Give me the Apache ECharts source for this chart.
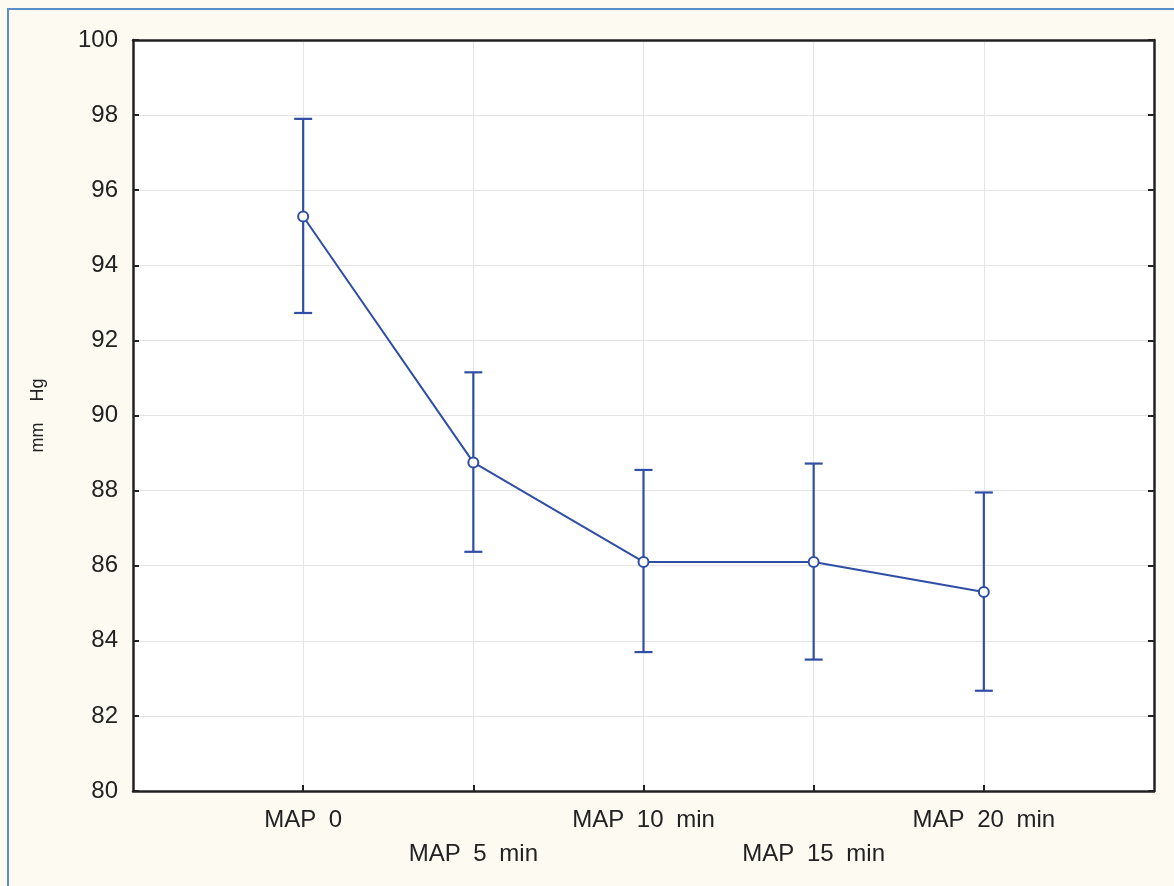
<!DOCTYPE html>
<html>
<head>
<meta charset="utf-8">
<script src="https://cdn.jsdelivr.net/npm/echarts@6/dist/echarts.min.js"></script>
<style>
html, body { margin:0; padding:0; background:#fdfaf2; }
#frame { position:absolute; left:7px; top:8px; right:0; bottom:0; border-left:2px solid #5b8ccc; border-top:2px solid #5b8ccc; }
#chart { position:absolute; left:0; top:0; width:1174px; height:886px; }
</style>
</head>
<body>
<div id="frame"></div>
<div id="chart"></div>
<script>
// data
var categories = ['MAP 0', 'MAP 5 min', 'MAP 10 min', 'MAP 15 min', 'MAP 20 min'];
var means = [95.3, 88.75, 86.1, 86.1, 85.3];
var upper = [97.9, 91.15, 88.55, 88.72, 87.95];
var lower = [92.73, 86.37, 83.7, 83.5, 82.67];

var LINE = '#2f4ea5';
var FONT = 'Liberation Sans, Arial, sans-serif';
var myChart = echarts.init(document.getElementById('chart'));

var points = [];
var bars = [];
for (var i = 0; i < categories.length; i++) {
    points.push([i + 1, means[i]]);
    bars.push([i + 1, lower[i], upper[i]]);
}

// statistica spaces words out wider than arial does
function spaced(txt) {
    return txt.split(' ').map(function (w) { return '{w|' + w + '}'; }).join(' ');
}

function renderBar(params, api) {
    var x = api.value(0);
    var lo = api.coord([x, api.value(1)]);
    var hi = api.coord([x, api.value(2)]);
    var half = 9;
    var st = { stroke: LINE, lineWidth: 2.2, fill: null };
    return {
        type: 'group',
        children: [
            { type: 'line', shape: { x1: lo[0], y1: lo[1], x2: hi[0], y2: hi[1] }, style: st },
            { type: 'line', shape: { x1: lo[0] - half, y1: lo[1], x2: lo[0] + half, y2: lo[1] }, style: st },
            { type: 'line', shape: { x1: hi[0] - half, y1: hi[1], x2: hi[0] + half, y2: hi[1] }, style: st }
        ]
    };
}

var axisDark = { color: '#222', width: 2.5 };
var tickDark = { inside: true, length: 6, lineStyle: { color: '#222', width: 2 } };

var option = {
    animation: false,
    grid: { left: 133, right: 20, top: 40, bottom: 95, backgroundColor: '#fff', show: true, borderWidth: 0 },
    xAxis: [{
        type: 'value', min: 0, max: 6, interval: 1,
        axisLine: { onZero: false, lineStyle: axisDark },
        axisTick: tickDark,
        splitLine: { lineStyle: { color: '#e4e4e4', width: 1 } },
        axisLabel: {
            margin: 12, lineHeight: 34,
            fontFamily: FONT, fontSize: 24, color: '#222',
            rich: { w: { fontFamily: FONT, fontSize: 24, color: '#222', lineHeight: 34, padding: [0, 3, 0, 3] } },
            formatter: function (v) {
                var k = Math.round(v) - 1;
                if (v !== Math.round(v) || k < 0 || k >= categories.length) return '';
                return k % 2 === 1 ? '\n' + spaced(categories[k]) : spaced(categories[k]);
            },
            showMinLabel: false, showMaxLabel: false
        }
    }, {
        type: 'value', min: 0, max: 6, position: 'top',
        axisLine: { show: true, onZero: false, lineStyle: axisDark },
        axisTick: { show: false }, axisLabel: { show: false }, splitLine: { show: false }
    }],
    yAxis: [{
        type: 'value', min: 80, max: 100, interval: 2,
        name: '{w|mm} {w|Hg}', nameLocation: 'middle', nameGap: 86, nameRotate: 90,
        nameTextStyle: {
            fontFamily: FONT, fontSize: 18, color: '#222',
            rich: { w: { fontFamily: FONT, fontSize: 18, color: '#222', padding: [0, 8, 0, 8] } }
        },
        axisLine: { show: true, onZero: false, lineStyle: axisDark },
        axisTick: tickDark,
        splitLine: { lineStyle: { color: '#e4e4e4', width: 1 } },
        axisLabel: { margin: 15, fontFamily: FONT, fontSize: 24, color: '#222' }
    }, {
        type: 'value', min: 80, max: 100, interval: 2, position: 'right',
        axisLine: { show: true, onZero: false, lineStyle: axisDark },
        axisTick: tickDark,
        axisLabel: { show: false }, splitLine: { show: false }
    }],
    series: [{
        type: 'custom',
        renderItem: renderBar,
        encode: { x: 0, y: [1, 2] },
        data: bars,
        z: 2
    }, {
        type: 'line',
        data: points,
        symbol: 'circle',
        symbolSize: 10,
        lineStyle: { color: LINE, width: 2 },
        itemStyle: { color: '#fff', borderColor: LINE, borderWidth: 2 },
        z: 3
    }]
};
myChart.setOption(option);
</script>
</body>
</html>
